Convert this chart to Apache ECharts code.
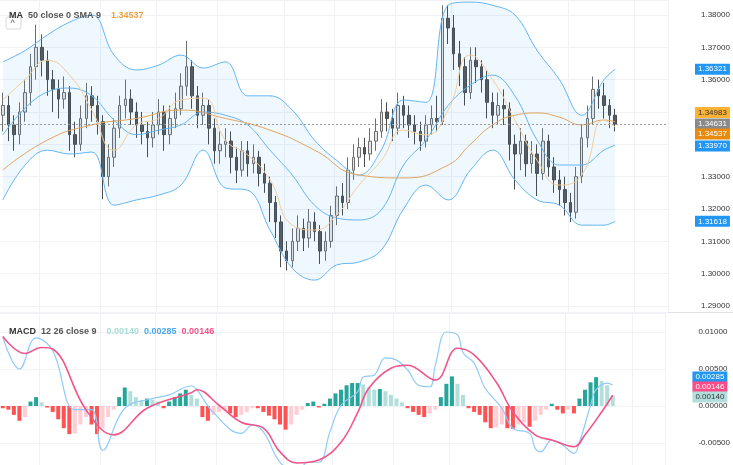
<!DOCTYPE html>
<html>
<head>
<meta charset="utf-8">
<script src="https://cdn.jsdelivr.net/npm/echarts@6/dist/echarts.min.js"></script>
<style>
  html, body { margin: 0; padding: 0; background: #fff; }
  #chart { width: 733px; height: 465px; }
</style>
</head>
<body>
<div id="chart"></div>
<script>
// candles: [open, close, low, high]
var candles = [
  [1.349,1.352,1.344,1.356],[1.352,1.346,1.341,1.355],[1.346,1.343,1.338,1.349],[1.343,1.350,1.340,1.353],
  [1.350,1.356,1.347,1.360],[1.356,1.364,1.352,1.368],[1.364,1.370,1.360,1.377],[1.370,1.366,1.361,1.374],
  [1.366,1.360,1.355,1.369],[1.360,1.357,1.350,1.363],[1.357,1.354,1.348,1.360],[1.354,1.356,1.351,1.361],
  [1.356,1.343,1.338,1.358],[1.343,1.340,1.336,1.347],[1.340,1.348,1.338,1.352],[1.348,1.355,1.345,1.359],
  [1.355,1.352,1.347,1.358],[1.352,1.347,1.343,1.355],[1.347,1.330,1.323,1.349],[1.330,1.336,1.327,1.340],
  [1.336,1.345,1.333,1.348],[1.345,1.352,1.342,1.355],[1.352,1.354,1.348,1.360],[1.354,1.350,1.346,1.357],
  [1.350,1.346,1.342,1.353],[1.346,1.344,1.340,1.350],[1.344,1.342,1.336,1.347],[1.342,1.346,1.339,1.350],
  [1.346,1.350,1.343,1.354],[1.350,1.343,1.338,1.352],[1.343,1.348,1.340,1.352],[1.348,1.351,1.345,1.356],
  [1.351,1.358,1.349,1.362],[1.358,1.364,1.355,1.372],[1.364,1.355,1.351,1.366],[1.355,1.349,1.345,1.358],
  [1.349,1.352,1.346,1.356],[1.352,1.345,1.340,1.354],[1.345,1.338,1.334,1.348],[1.338,1.340,1.334,1.344],
  [1.340,1.341,1.336,1.345],[1.341,1.336,1.331,1.344],[1.336,1.332,1.328,1.339],[1.332,1.338,1.330,1.341],
  [1.338,1.334,1.330,1.341],[1.334,1.336,1.331,1.340],[1.336,1.331,1.327,1.338],[1.331,1.328,1.325,1.334],
  [1.328,1.322,1.316,1.330],[1.322,1.316,1.311,1.324],[1.316,1.307,1.302,1.318],[1.307,1.304,1.301,1.310],
  [1.304,1.310,1.302,1.314],[1.310,1.314,1.307,1.318],[1.314,1.311,1.307,1.317],[1.311,1.316,1.308,1.320],
  [1.316,1.313,1.310,1.319],[1.313,1.307,1.303,1.315],[1.307,1.310,1.304,1.313],[1.310,1.318,1.308,1.321],
  [1.318,1.324,1.315,1.327],[1.324,1.322,1.318,1.328],[1.322,1.332,1.320,1.336],[1.332,1.336,1.329,1.340],
  [1.336,1.339,1.333,1.342],[1.339,1.337,1.333,1.342],[1.337,1.341,1.335,1.345],[1.341,1.344,1.338,1.348],
  [1.344,1.350,1.342,1.354],[1.350,1.348,1.344,1.353],[1.348,1.345,1.341,1.351],[1.345,1.352,1.343,1.356],
  [1.352,1.349,1.345,1.355],[1.349,1.346,1.342,1.352],[1.346,1.344,1.340,1.349],[1.344,1.341,1.338,1.347],
  [1.341,1.346,1.339,1.349],[1.346,1.348,1.343,1.352],[1.348,1.347,1.344,1.355],[1.347,1.379,1.346,1.383],
  [1.379,1.376,1.371,1.383],[1.376,1.368,1.363,1.380],[1.368,1.364,1.358,1.372],[1.364,1.356,1.352,1.367],
  [1.356,1.366,1.354,1.370],[1.366,1.364,1.359,1.370],[1.364,1.360,1.356,1.366],[1.360,1.353,1.348,1.363],
  [1.353,1.349,1.345,1.356],[1.349,1.352,1.346,1.356],[1.352,1.351,1.346,1.357],[1.351,1.340,1.335,1.353],
  [1.340,1.337,1.326,1.343],[1.337,1.341,1.332,1.345],[1.341,1.334,1.330,1.343],[1.334,1.337,1.331,1.341],
  [1.337,1.331,1.324,1.340],[1.331,1.341,1.329,1.345],[1.341,1.333,1.330,1.343],[1.333,1.329,1.325,1.336],
  [1.329,1.326,1.321,1.332],[1.326,1.322,1.318,1.330],[1.322,1.319,1.316,1.325],[1.319,1.330,1.317,1.333],
  [1.330,1.342,1.328,1.346],[1.342,1.348,1.339,1.352],[1.348,1.357,1.346,1.361],[1.357,1.355,1.351,1.360],
  [1.355,1.352,1.348,1.359],[1.352,1.349,1.345,1.354],[1.349,1.3463,1.344,1.351]
];
var totalSlots = 120;

// overlay lines, sampled at these candle indexes
var overlayIdx = [0,4,8,12,16,20,24,28,32,36,40,44,48,52,56,60,64,68,72,76,80,84,88,92,96,100,104,108,110];
var bbUpper = [1.3655,1.369,1.3738,1.3778,1.380,1.3676,1.363,1.3645,1.3676,1.3636,1.3655,1.355,1.355,1.3506,1.3413,1.335,1.3305,1.3383,1.3537,1.353,1.383,1.384,1.383,1.380,1.369,1.360,1.349,1.360,1.36321];
var bbLower = [1.3228,1.3336,1.3382,1.337,1.3376,1.3212,1.3228,1.3243,1.3274,1.3382,1.3265,1.3258,1.3135,1.3017,1.298,1.3027,1.3036,1.3073,1.320,1.3274,1.3228,1.332,1.3382,1.329,1.3228,1.3212,1.315,1.315,1.31618];
var bbBasis = [1.3429,1.3512,1.3562,1.3574,1.355,1.3475,1.343,1.3444,1.346,1.350,1.349,1.346,1.3382,1.3305,1.3212,1.3172,1.3166,1.3197,1.3336,1.3413,1.352,1.3583,1.3614,1.355,1.3413,1.3336,1.3336,1.3382,1.3397];
var smaFast = [1.3537,1.360,1.366,1.3614,1.3506,1.3382,1.346,1.348,1.3537,1.3543,1.3413,1.3367,1.329,1.315,1.3135,1.3182,1.3274,1.335,1.3444,1.3429,1.3506,1.3676,1.360,1.3475,1.335,1.3274,1.3305,1.3475,1.34537];
var maIdx = [0,8,16,24,32,40,48,56,64,72,80,84,88,92,96,100,104,108,110];
var maSlow = [1.332,1.3413,1.346,1.348,1.3506,1.348,1.3444,1.3382,1.3305,1.3296,1.3336,1.340,1.346,1.349,1.3497,1.3484,1.346,1.3475,1.347];

// MACD pane
var macdIdx = [0,3,6,9,13,16,18,22,27,30,34,35,38,43,45,47,50,53,55,57,59,61,64,65,67,69,71,73,75,77,78,80,82,83,85,87,90,92,95,96,97,99,101,103,104,106,107,109,110];
var macdLine = [0.0093,0.0050,0.0092,0.0075,-0.0005,-0.0005,-0.0060,-0.0003,0.0010,0.0015,0.0027,0.0022,-0.0009,-0.0037,-0.0026,-0.0035,-0.0076,-0.0090,-0.0076,-0.0076,-0.0035,0.0001,0.0019,0.0039,0.0042,0.0065,0.0062,0.0049,0.0028,0.0026,0.0055,0.0100,0.0096,0.0072,0.0058,0.0024,-0.0003,-0.0030,-0.0037,-0.0057,-0.0062,-0.0046,-0.0053,-0.0064,-0.0049,0.0001,0.0022,0.0031,0.00285];
var sigIdx = [0,4,7,9,15,20,26,34,35,39,43,47,50,53,57,61,64,66,70,73,78,82,85,89,92,96,99,103,105,108,110];
var sigLine = [0.0094,0.0071,0.0079,0.0077,-0.0005,-0.0039,-0.0003,0.0018,0.0022,0.0001,-0.0022,-0.0030,-0.0062,-0.0077,-0.0073,-0.0049,-0.0009,0.0024,0.0051,0.0055,0.0035,0.0078,0.0069,0.0032,-0.0008,-0.0039,-0.0046,-0.0055,-0.0039,-0.0008,0.00146];
var hist = [-0.0003,-0.0005,-0.0012,-0.0020,-0.0015,0.0006,0.0012,0.0005,-0.0002,-0.0008,
  -0.0018,-0.0030,-0.0038,-0.0037,-0.0025,-0.0015,-0.0025,-0.0038,-0.0030,-0.0015,
  -0.0005,0.0012,0.0025,0.0020,0.0012,0.0008,0.0010,0.0008,0.0006,-0.0003,
  0.0006,0.0012,0.0017,0.0022,0.0015,0.0010,-0.0015,-0.0020,-0.0012,-0.0008,
  -0.0006,-0.0010,-0.0015,-0.0012,-0.0008,-0.0003,-0.0003,-0.0008,-0.0013,-0.0018,
  -0.0025,-0.0032,-0.0025,-0.0012,-0.0005,0.0004,0.0006,-0.0002,0.0003,0.0010,
  0.0017,0.0022,0.0028,0.0031,0.0031,0.0029,0.0025,0.0022,0.0023,0.0020,
  0.0015,0.0010,0.0005,-0.0003,-0.0008,-0.0012,-0.0015,-0.0010,-0.0005,0.0012,
  0.0030,0.0040,0.0030,0.0015,-0.0003,-0.0008,-0.0012,-0.0022,-0.0030,-0.0029,
  -0.0025,-0.0030,-0.0031,-0.0025,-0.0022,-0.0028,-0.0020,-0.0012,-0.0005,0.0003,
  -0.0005,-0.0010,-0.0005,-0.0010,0.0010,0.0022,0.0032,0.0039,0.0034,0.0028,0.0014];

// right-hand price tags: [shown value, position value, background, text colour]
var priceTags = [
  ['1.36321', 1.36321, '#2196f3', '#fff'],
  ['1.34983', 1.34983, '#f9b233', '#333'],
  ['1.34631', 1.34631, '#8a8a8a', '#fff'],
  ['1.34537', 1.3432, '#e88a0c', '#fff'],
  ['1.33970', 1.3395, '#2196f3', '#fff'],
  ['1.31618', 1.31618, '#2196f3', '#fff']
];
var macdTags = [
  ['0.00285', 0.00392, '#2196f3', '#fff'],
  ['0.00146', 0.00257, '#ff4d88', '#fff'],
  ['0.00140', 0.00122, '#b2dfdb', '#333']
];
var vLines = [7,18,28,39,51,60,71,81,102,114];
var lastPrice = 1.34631;

function pairs(idx, vals) {
  return idx.map(function (k, j) { return [k, vals[j]]; });
}
var cats = [];
for (var i = 0; i < totalSlots; i++) cats.push(String(i));

var bandWidth = bbUpper.map(function (v, k) { return v - bbLower[k]; });

var histData = hist.map(function (v, k) {
  var prev = k > 0 ? hist[k - 1] : 0;
  var c;
  if (v >= 0) c = v >= prev ? '#26a69a' : '#b2dfdb';
  else c = v <= prev ? '#ff5252' : '#ffcdd2';
  return { value: v, itemStyle: { color: c } };
});

var font = 'Liberation Sans';

// one series per tag so overlapping labels are never hidden
function tagSeries(tags, axisIdx) {
  return tags.map(function (t) {
    return {
      type: 'line', xAxisIndex: axisIdx, yAxisIndex: axisIdx, data: [], clip: false, silent: true,
      markLine: {
        silent: true, symbol: 'none', animation: false, precision: 6,
        lineStyle: { color: 'rgba(0,0,0,0)', width: 0 },
        data: [{
          yAxis: t[1],
          label: {
            show: true, position: 'end', formatter: t[0], distance: 27,
            backgroundColor: t[2], color: t[3], fontSize: 8, padding: [2, 3, 1, 3], fontFamily: font
          }
        }]
      }
    };
  });
}

var xSplit = {
  show: true,
  interval: function (index) { return vLines.indexOf(index) >= 0; },
  lineStyle: { color: '#f0f2f6', width: 1 }
};

var option = {
  animation: false,
  backgroundColor: '#fff',
  title: [
    {
      left: 4, top: 2,
      text: '{a|MA} {b|50 close 0 SMA 9}  {c|1.34537}',
      textStyle: {
        rich: {
          a: { fontSize: 9, color: '#333', fontFamily: font, fontWeight: 'bold' },
          b: { fontSize: 9, color: '#555', fontFamily: font },
          c: { fontSize: 9, color: '#f0a040', fontFamily: font }
        }
      }
    },
    {
      left: 4, top: 318,
      text: '{a|MACD} {b|12 26 close 9}  {c|0.00140} {d|0.00285} {e|0.00146}',
      textStyle: {
        rich: {
          a: { fontSize: 9, color: '#333', fontFamily: font, fontWeight: 'bold' },
          b: { fontSize: 9, color: '#555', fontFamily: font },
          c: { fontSize: 9, color: '#a8ddd6', fontFamily: font },
          d: { fontSize: 9, color: '#4aa8f0', fontFamily: font },
          e: { fontSize: 9, color: '#f2558a', fontFamily: font }
        }
      }
    }
  ],
  graphic: [
    { type: 'rect', shape: { x: 6, y: 17, width: 15, height: 12, r: 2 }, style: { fill: '#fff', stroke: '#d8d8d8' } },
    { type: 'text', x: 10.5, y: 19, style: { text: '^', fontSize: 9, fill: '#555', fontFamily: font } },
    { type: 'line', shape: { x1: 0, y1: 312.5, x2: 733, y2: 312.5 }, style: { stroke: '#e0e3eb', lineWidth: 1 } }
  ],
  grid: [
    { left: 0, right: 65, top: 0, height: 312 },
    { left: 0, right: 65, top: 313, height: 152 }
  ],
  xAxis: [
    { type: 'category', data: cats, gridIndex: 0, boundaryGap: true,
      axisLine: { show: false }, axisTick: { show: false }, axisLabel: { show: false }, splitLine: xSplit },
    { type: 'category', data: cats, gridIndex: 1, boundaryGap: true,
      axisLine: { show: false }, axisTick: { show: false }, axisLabel: { show: false }, splitLine: xSplit }
  ],
  yAxis: [
    { type: 'value', gridIndex: 0, position: 'right', min: 1.28814, max: 1.38464, splitNumber: 9,
      axisLine: { show: false }, axisTick: { show: false },
      axisLabel: { color: '#333', fontSize: 8, margin: 33, fontFamily: font, showMinLabel: false, showMaxLabel: false,
        formatter: function (v) { return v.toFixed(5); } },
      splitLine: { lineStyle: { color: '#f0f2f6' } } },
    { type: 'value', gridIndex: 1, position: 'right', min: -0.007973, max: 0.012568, splitNumber: 4,
      axisLine: { show: false }, axisTick: { show: false },
      axisLabel: { color: '#333', fontSize: 8, margin: 33, fontFamily: font, showMinLabel: false, showMaxLabel: false,
        formatter: function (v) { return v.toFixed(5); } },
      splitLine: { lineStyle: { color: '#f0f2f6' } } }
  ],
  series: [
    { type: 'line', name: 'bbLow', data: pairs(overlayIdx, bbLower), stack: 'bb', smooth: 0.4,
      symbol: 'none', lineStyle: { color: '#64b5f6', width: 1 } },
    { type: 'line', name: 'bbBand', data: pairs(overlayIdx, bandWidth), stack: 'bb', smooth: 0.4,
      symbol: 'none', lineStyle: { color: '#64b5f6', width: 1 }, areaStyle: { color: 'rgba(33,150,243,0.1)' } },
    { type: 'line', data: pairs(overlayIdx, bbBasis), smooth: 0.4,
      symbol: 'none', lineStyle: { color: '#64b5f6', width: 1 } },
    { type: 'line', data: pairs(maIdx, maSlow), smooth: 0.5,
      symbol: 'none', lineStyle: { color: '#e2a45c', width: 1 } },
    { type: 'line', data: pairs(overlayIdx, smaFast), smooth: 0.5,
      symbol: 'none', lineStyle: { color: '#f2cf9a', width: 1 } },
    { type: 'candlestick', data: candles, barWidth: 3,
      itemStyle: { color: '#e6e6e6', color0: '#5a5a5a', borderColor: '#6e6e6e', borderColor0: '#4a4a4a', borderWidth: 1 },
      markLine: {
        silent: true, symbol: 'none', animation: false, precision: 6,
        data: [{ yAxis: lastPrice, label: { show: false }, lineStyle: { color: '#9a9a9a', type: [2, 2], width: 1 } }]
      }
    },
    { type: 'bar', xAxisIndex: 1, yAxisIndex: 1, data: histData, barWidth: 4 },
    { type: 'line', xAxisIndex: 1, yAxisIndex: 1, data: pairs(macdIdx, macdLine), smooth: 0.4,
      symbol: 'none', lineStyle: { color: '#90caf9', width: 1.2 } },
    { type: 'line', xAxisIndex: 1, yAxisIndex: 1, data: pairs(sigIdx, sigLine), smooth: 0.4,
      symbol: 'none', lineStyle: { color: '#f0558a', width: 1.6 } }
  ].concat(tagSeries(priceTags, 0), tagSeries(macdTags, 1))
};

var chart = echarts.init(document.getElementById('chart'));
chart.setOption(option);
</script>
</body>
</html>
